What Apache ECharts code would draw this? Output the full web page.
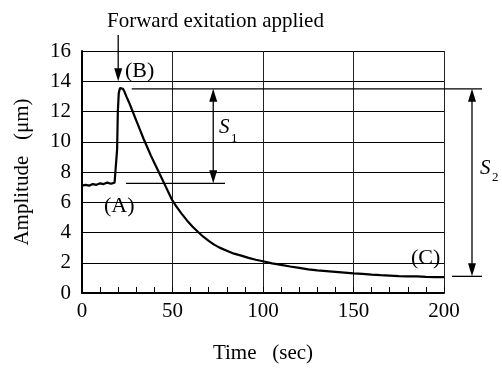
<!DOCTYPE html>
<html>
<head>
<meta charset="utf-8">
<script src="https://cdn.jsdelivr.net/npm/echarts@6/dist/echarts.min.js"></script>
<style>
  html, body { margin: 0; padding: 0; background: #fff; }
  #chart { width: 502px; height: 369px; }
</style>
</head>
<body>
<div id="chart"></div>
<script>
// time (sec) and amplitude (um)
const times = [0, 2, 4, 6, 8, 10, 12, 14, 16, 18, 19, 19.4, 19.8, 20.3, 21, 21.8, 22.6, 23.5, 24.5,
  26, 28, 30, 32, 34, 36, 38, 40, 42, 44, 46, 48, 50, 52, 55, 58, 61, 64, 67, 70, 73, 76, 80,
  84, 88, 92, 96, 100, 105, 110, 115, 120, 125, 130, 135, 140, 145, 150, 155, 160, 165, 170,
  175, 180, 185, 190, 195, 200];
const amps = [7.1, 7.15, 7.1, 7.2, 7.15, 7.25, 7.2, 7.3, 7.22, 7.3, 7.35, 9.5, 12.0, 13.2, 13.55, 13.6, 13.5, 13.3, 13.0,
  12.6, 12.0, 11.4, 10.8, 10.2, 9.65, 9.1, 8.6, 8.1, 7.6, 7.1, 6.6, 6.1, 5.75, 5.25, 4.8, 4.4, 4.05, 3.72, 3.45, 3.2, 3.0, 2.8,
  2.6, 2.47, 2.32, 2.2, 2.1, 1.96, 1.86, 1.75, 1.66, 1.56, 1.5, 1.45, 1.4, 1.35, 1.3, 1.27, 1.22, 1.18, 1.15,
  1.12, 1.1, 1.1, 1.07, 1.05, 1.05];

// annotation levels
const levelB = 13.5;
const levelA = 7.25;
const levelC = 1.1;

const FONT = "'Liberation Serif', 'Times New Roman', serif";
const chart = echarts.init(document.getElementById("chart"), null, { renderer: "canvas" });

const option = {
  animation: false,
  textStyle: { fontFamily: FONT },
  grid: { left: 82, right: 58, top: 51, bottom: 76 },
  xAxis: {
    type: "value",
    min: 0,
    max: 200,
    interval: 50,
    name: "Time\u2002 (sec)",
    nameLocation: "middle",
    nameGap: 50,
    nameTextStyle: { color: "#000", fontSize: 21, fontFamily: FONT },
    axisLine: { lineStyle: { color: "#000", width: 2 } },
    axisTick: { inside: true, length: 6, lineStyle: { color: "#000" } },
    minorTick: { show: true, splitNumber: 5, length: 6, lineStyle: { color: "#000" } },
    axisLabel: { color: "#000", fontSize: 21, margin: 8, fontFamily: FONT },
    splitLine: { show: true, lineStyle: { color: "#222", width: 1 } },
  },
  yAxis: {
    type: "value",
    min: 0,
    max: 16,
    interval: 2,
    name: "Amplitude\u2002 (\u03bcm)",
    nameLocation: "middle",
    nameGap: 49,
    nameTextStyle: { color: "#000", fontSize: 21, fontFamily: FONT },
    axisLine: { show: true, lineStyle: { color: "#000", width: 2 } },
    axisTick: { show: true, inside: true, length: 8, lineStyle: { color: "#000" } },
    axisLabel: { color: "#000", fontSize: 21, margin: 11, fontFamily: FONT },
    splitLine: { show: true, lineStyle: { color: "#000", width: 1 } },
  },
  series: [
    {
      type: "line",
      data: times.map((t, i) => [t, amps[i]]),
      showSymbol: false,
      lineStyle: { color: "#000", width: 2.2 },
      z: 5,
    },
  ],
};
chart.setOption(option);

function px(t, v) {
  return chart.convertToPixel({ gridIndex: 0 }, [t, v]);
}

function vArrow(x, y1, y2, up, down) {
  const els = [];
  const head = 13;
  const hw = 4;
  els.push({
    type: "line",
    shape: { x1: x, y1: y1 + (up ? head - 1 : 0), x2: x, y2: y2 - (down ? head - 1 : 0) },
    style: { stroke: "#000", lineWidth: 1.3 },
  });
  if (up) {
    els.push({ type: "polygon", shape: { points: [[x, y1], [x - hw, y1 + head], [x + hw, y1 + head]] }, style: { fill: "#000" } });
  }
  if (down) {
    els.push({ type: "polygon", shape: { points: [[x, y2], [x - hw, y2 - head], [x + hw, y2 - head]] }, style: { fill: "#000" } });
  }
  return els;
}

function label(x, y, text, extra) {
  return {
    type: "text",
    x: x,
    y: y,
    style: Object.assign({ text: text, fill: "#000", font: "21px " + FONT, textVerticalAlign: "middle" }, extra || {}),
  };
}

const yB = px(0, levelB)[1];
const yA = px(0, levelA)[1];
const yC = px(0, levelC)[1];
const y14 = px(0, 14)[1];
const arrowX = px(20, 0)[0];
const s1X = px(72.5, 0)[0];

const graphics = [
  label(107, 21, "Forward exitation applied"),
  ...vArrow(arrowX, 35, y14, false, true),
  label(125, 71, "(B)", { font: "22px " + FONT }),
  label(104, 206, "(A)", { font: "22px " + FONT }),
  label(411, 258, "(C)", { font: "22px " + FONT }),
  // S2 level lines
  { type: "line", shape: { x1: px(27.5, 0)[0], y1: yB, x2: 482, y2: yB }, style: { stroke: "#000", lineWidth: 1.3 } },
  { type: "line", shape: { x1: 452, y1: yC, x2: 482, y2: yC }, style: { stroke: "#000", lineWidth: 1.3 } },
  ...vArrow(472, yB, yC, true, true),
  // S1
  { type: "line", shape: { x1: px(24.3, 0)[0], y1: yA, x2: px(79, 0)[0], y2: yA }, style: { stroke: "#000", lineWidth: 1.3 } },
  ...vArrow(s1X, yB, yA, true, true),
  label(219, 127, "S", { font: "italic 21px " + FONT }),
  label(231, 139, "1", { font: "13px " + FONT }),
  label(480, 168, "S", { font: "italic 21px " + FONT }),
  label(492, 178, "2", { font: "13px " + FONT }),
];

chart.setOption({ graphic: graphics });
</script>
</body>
</html>
